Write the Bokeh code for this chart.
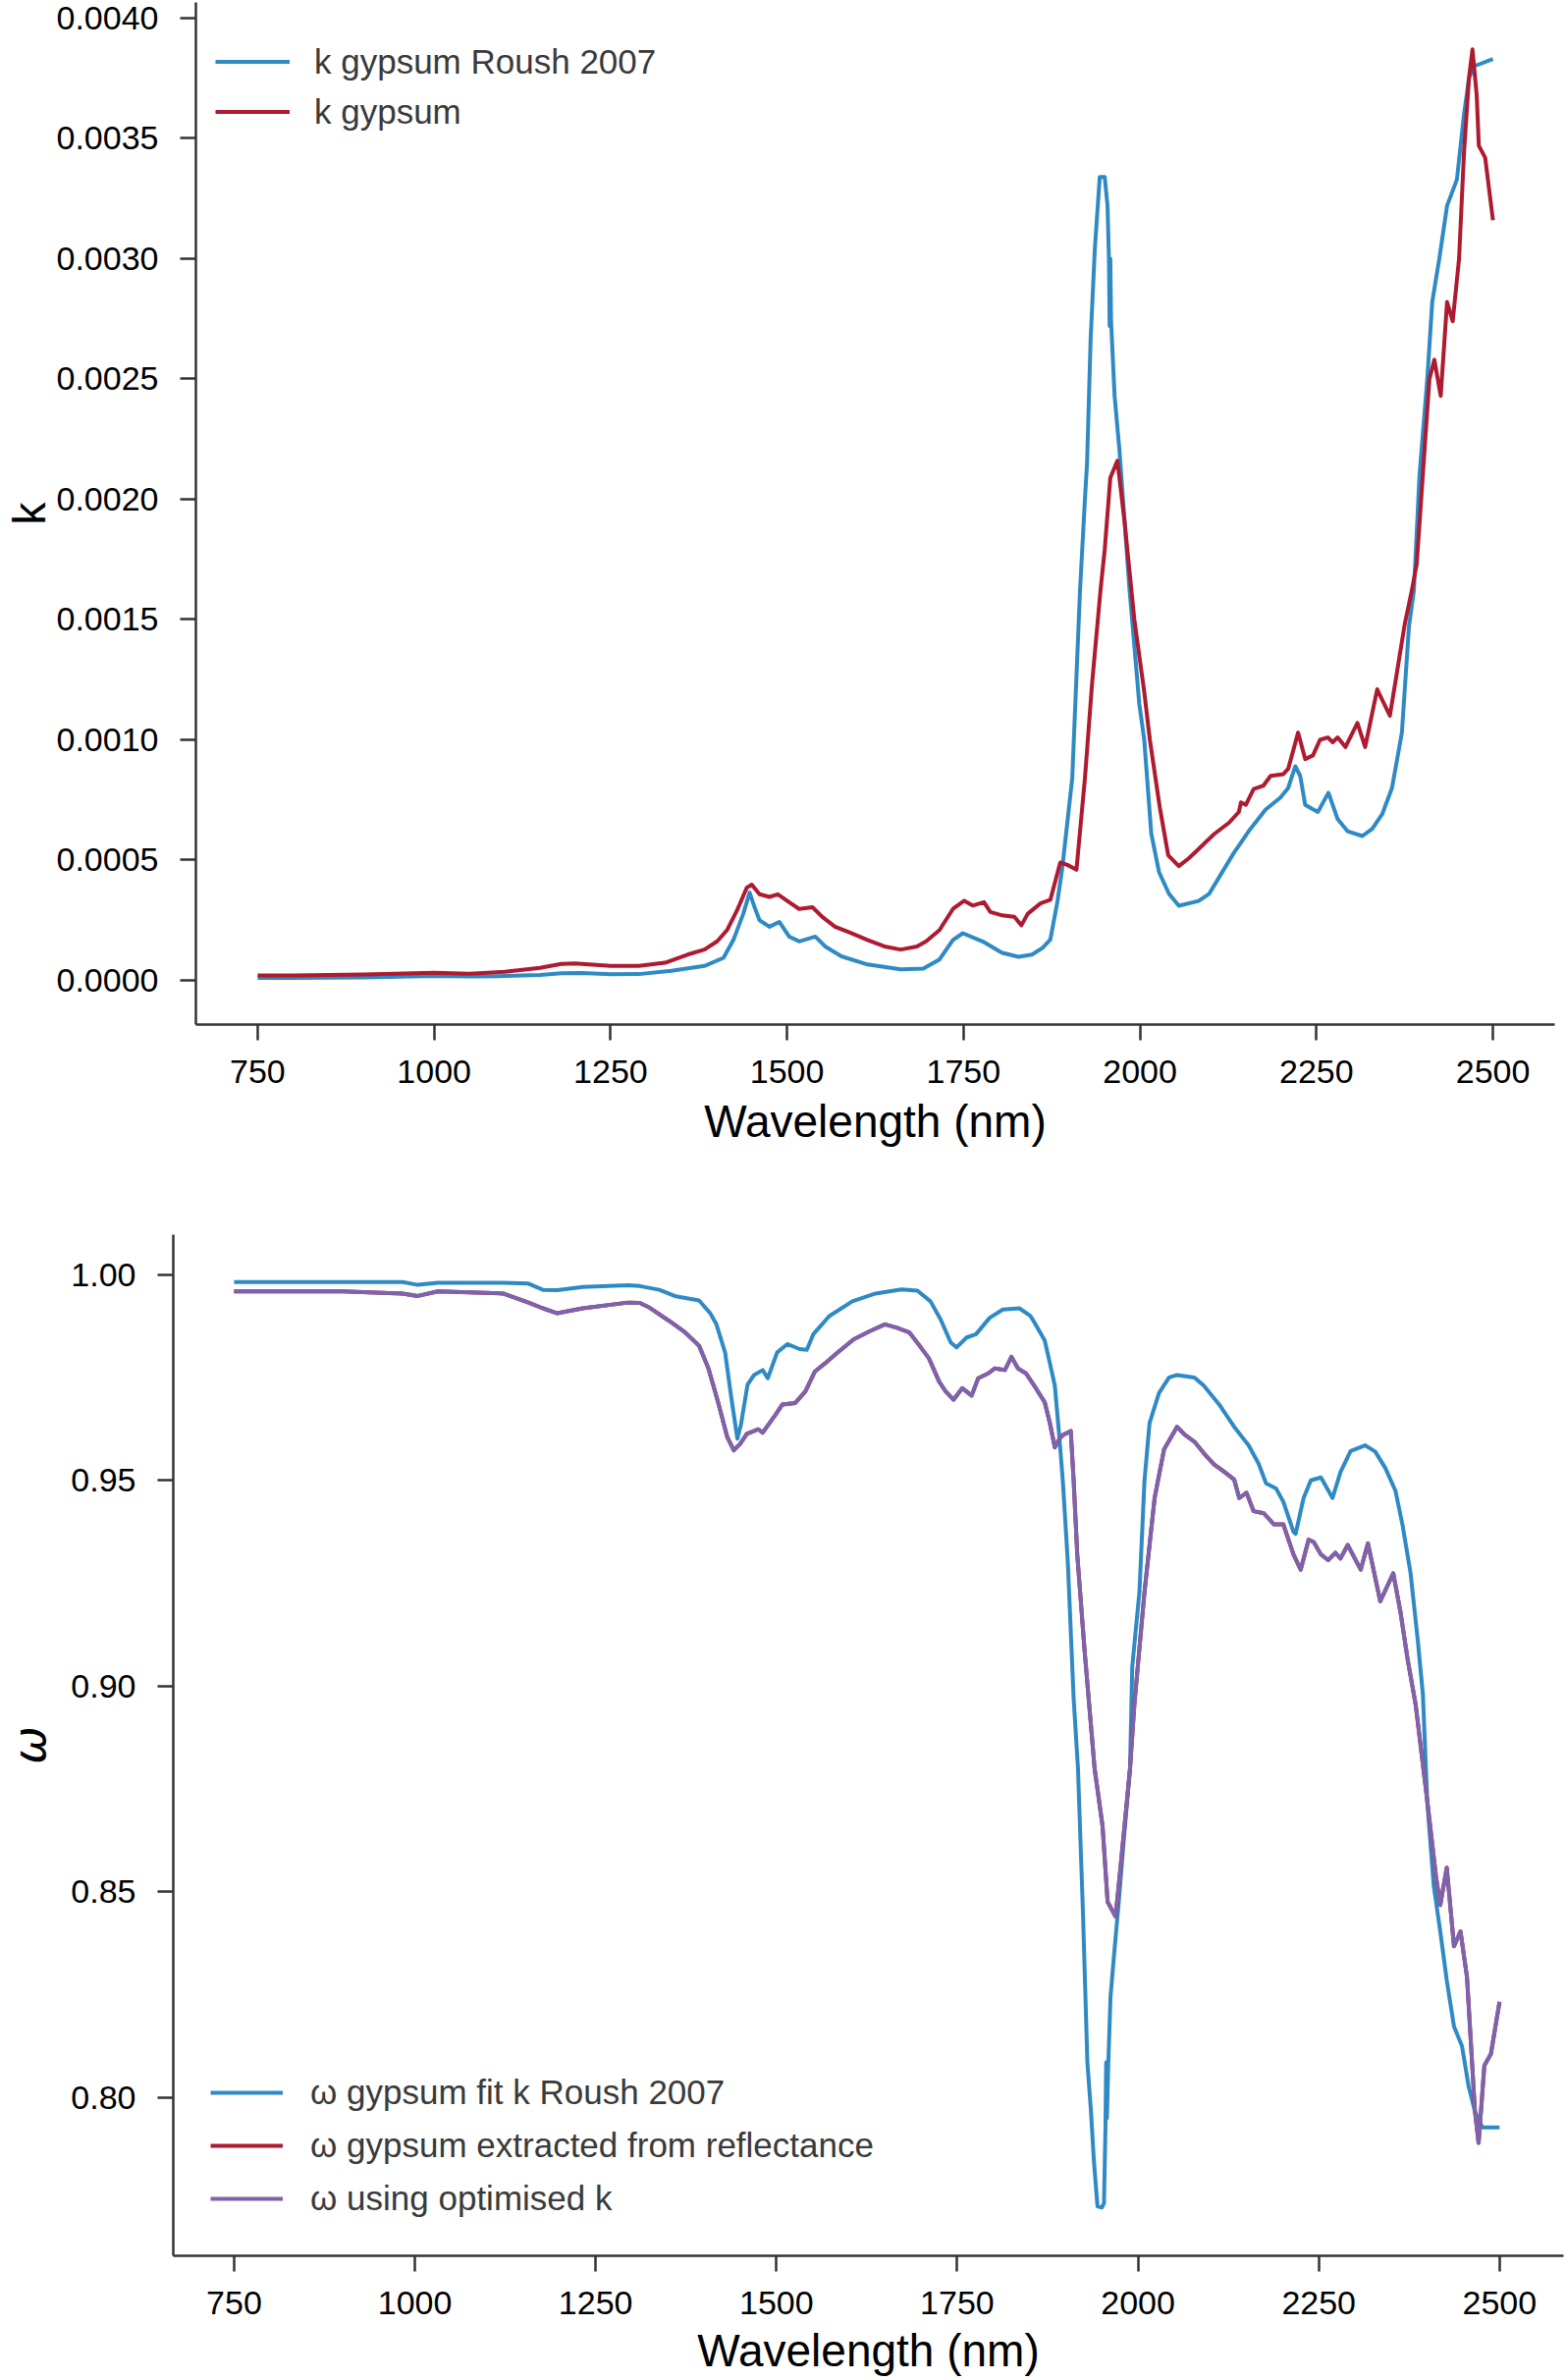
from bokeh.plotting import figure
from bokeh.models import Range1d, FixedTicker, PrintfTickFormatter, Legend, LegendItem
from bokeh.embed import file_html
from bokeh.resources import INLINE

# ---------------- data: top panel (k) ----------------
wl_k_roush = [750, 800, 900, 1000, 1050, 1100, 1150, 1180, 1210, 1250,
              1290, 1336, 1383, 1410, 1424, 1438, 1447, 1454, 1461, 1475,
              1489, 1503, 1517, 1540, 1554, 1577, 1614, 1661, 1693, 1716,
              1735, 1749, 1777, 1805, 1828, 1847, 1862, 1873, 1883, 1890,
              1904, 1915, 1922, 1925, 1930, 1936, 1943, 1950, 1954, 1956,
              1957, 1958, 1959, 1964, 1971, 1985, 1999, 2006, 2016, 2027,
              2041, 2055, 2083, 2098, 2133, 2154, 2178, 2199, 2210, 2220,
              2227, 2234, 2252, 2267, 2280, 2294, 2315, 2329, 2343, 2357,
              2371, 2381, 2388, 2396, 2407, 2414, 2424, 2435, 2449, 2459,
              2466, 2473, 2500]
k_roush = [0.000010, 0.000010, 0.000012, 0.000018, 0.000016, 0.000018, 0.000022, 0.000030, 0.000031, 0.000025,
           0.000026, 0.000040, 0.000060, 0.000094, 0.000168, 0.000277, 0.000365, 0.000304, 0.000250, 0.000223,
           0.000243, 0.000182, 0.000162, 0.000182, 0.000141, 0.000100, 0.000066, 0.000046, 0.000049, 0.000087,
           0.000168, 0.000196, 0.000162, 0.000114, 0.000098, 0.000107, 0.000135, 0.000170, 0.000327, 0.000470,
           0.000840, 0.001620, 0.002000, 0.002150, 0.002660, 0.003040, 0.003340, 0.003340, 0.003220, 0.003000,
           0.002720, 0.003000, 0.002740, 0.002430, 0.002200, 0.001630, 0.001150, 0.001000, 0.000610, 0.000450,
           0.000360, 0.000310, 0.000330, 0.000360, 0.000530, 0.000620, 0.000710, 0.000760, 0.000800, 0.000890,
           0.000850, 0.000730, 0.000700, 0.000780, 0.000670, 0.000620, 0.000600, 0.000630, 0.000690, 0.000800,
           0.001030, 0.001470, 0.001620, 0.002100, 0.002500, 0.002820, 0.003000, 0.003220, 0.003330, 0.003600,
           0.003750, 0.003800, 0.003830]

wl_k_gypsum = [750, 800, 900, 1000, 1050, 1100, 1150, 1180, 1200, 1230,
               1250, 1290, 1327, 1359, 1383, 1401, 1415, 1429, 1443, 1450,
               1461, 1475, 1487, 1503, 1517, 1536, 1550, 1568, 1591, 1614,
               1638, 1661, 1684, 1697, 1716, 1735, 1751, 1763, 1779, 1788,
               1805, 1822, 1832, 1841, 1859, 1873, 1887, 1897, 1910, 1922,
               1932, 1944, 1950, 1958, 1968, 1978, 1992, 2006, 2014, 2028,
               2040, 2055, 2069, 2083, 2105, 2126, 2140, 2143, 2150, 2161,
               2175, 2185, 2203, 2210, 2224, 2234, 2245, 2255, 2266, 2273,
               2280, 2291, 2308, 2319, 2336, 2354, 2364, 2375, 2385, 2392,
               2403, 2410, 2417, 2426, 2435, 2443, 2452, 2459, 2466, 2471,
               2477, 2480, 2489, 2500]
k_gypsum = [0.000020, 0.000020, 0.000024, 0.000032, 0.000028, 0.000036, 0.000052, 0.000068, 0.000070, 0.000064,
            0.000060, 0.000060, 0.000073, 0.000107, 0.000128, 0.000162, 0.000209, 0.000290, 0.000386, 0.000398,
            0.000358, 0.000347, 0.000358, 0.000325, 0.000297, 0.000304, 0.000264, 0.000223, 0.000196, 0.000168,
            0.000141, 0.000128, 0.000141, 0.000162, 0.000209, 0.000297, 0.000331, 0.000311, 0.000325, 0.000284,
            0.000270, 0.000264, 0.000229, 0.000277, 0.000320, 0.000335, 0.000490, 0.000480, 0.000460, 0.000840,
            0.001230, 0.001620, 0.001790, 0.002090, 0.002160, 0.001910, 0.001500, 0.001200, 0.001000, 0.000720,
            0.000520, 0.000475, 0.000507, 0.000546, 0.000608, 0.000655, 0.000700, 0.000740, 0.000730, 0.000795,
            0.000810, 0.000850, 0.000857, 0.000880, 0.001030, 0.000920, 0.000935, 0.001000, 0.001010, 0.000990,
            0.001010, 0.000970, 0.001070, 0.000970, 0.001210, 0.001100, 0.001280, 0.001480, 0.001620, 0.001730,
            0.002200, 0.002500, 0.002580, 0.002430, 0.002820, 0.002740, 0.003000, 0.003440, 0.003750, 0.003870,
            0.003680, 0.003470, 0.003420, 0.003160]

# ---------------- data: bottom panel (omega) ----------------
wl_w_roush = [750, 900, 983, 1004, 1032, 1122, 1157, 1177, 1197, 1232,
              1295, 1311, 1338, 1361, 1393, 1408, 1417, 1429, 1437, 1446,
              1451, 1460, 1469, 1481, 1488, 1501, 1515, 1532, 1542, 1551,
              1573, 1605, 1637, 1673, 1695, 1713, 1727, 1741, 1749, 1763,
              1776, 1795, 1813, 1836, 1851, 1858, 1871, 1878, 1885, 1891,
              1896, 1903, 1911, 1917, 1924, 1930, 1935, 1939, 1944, 1950,
              1953, 1955, 1956, 1957, 1959, 1962, 1967, 1973, 1980, 1989,
              1992, 2002, 2009, 2016, 2029, 2043, 2054, 2078, 2091, 2112,
              2133, 2153, 2167, 2177, 2191, 2201, 2215, 2218, 2229, 2239,
              2253, 2269, 2280, 2294, 2314, 2328, 2342, 2356, 2366, 2377,
              2387, 2394, 2400, 2409, 2418, 2427, 2437, 2448, 2457, 2466,
              2476, 2500]
w_roush = [0.9982, 0.9982, 0.9982, 0.9975, 0.9980, 0.9980, 0.9978, 0.9963, 0.9962, 0.9970,
           0.9974, 0.9972, 0.9963, 0.9947, 0.9937, 0.9907, 0.9879, 0.9811, 0.9708, 0.9601,
           0.9636, 0.9732, 0.9756, 0.9768, 0.9748, 0.9811, 0.9831, 0.9819, 0.9817, 0.9855,
           0.9899, 0.9935, 0.9954, 0.9964, 0.9961, 0.9935, 0.9891, 0.9835, 0.9823, 0.9847,
           0.9855, 0.9895, 0.9915, 0.9918, 0.9900, 0.9880, 0.9840, 0.9786, 0.9730, 0.9610,
           0.9500, 0.9300, 0.8970, 0.8800, 0.8444, 0.8086, 0.7967, 0.7847, 0.7736, 0.7733,
           0.7744, 0.7927, 0.8086, 0.7950, 0.8086, 0.8245, 0.8349, 0.8468, 0.8619, 0.8800,
           0.9046, 0.9229, 0.9500, 0.9639, 0.9712, 0.9750, 0.9756, 0.9750, 0.9730, 0.9685,
           0.9630, 0.9585, 0.9540, 0.9493, 0.9480, 0.9448, 0.9375, 0.9370, 0.9457, 0.9500,
           0.9507, 0.9457, 0.9520, 0.9571, 0.9585, 0.9570, 0.9530, 0.9475, 0.9390, 0.9274,
           0.9110, 0.8980, 0.8720, 0.8515, 0.8404, 0.8285, 0.8173, 0.8126, 0.8030, 0.7966,
           0.7928, 0.7928]

wl_w_opt = [750, 900, 983, 1004, 1032, 1122, 1157, 1177, 1197, 1232,
            1295, 1311, 1325, 1352, 1374, 1393, 1406, 1419, 1432, 1441,
            1450, 1459, 1475, 1481, 1499, 1508, 1526, 1540, 1553, 1567,
            1585, 1607, 1630, 1650, 1666, 1684, 1698, 1711, 1725, 1734,
            1745, 1757, 1770, 1779, 1793, 1802, 1816, 1825, 1834, 1845,
            1858, 1871, 1878, 1885, 1891, 1896, 1907, 1911, 1916, 1926,
            1940, 1951, 1958, 1969, 1976, 1989, 1995, 2009, 2023, 2036,
            2054, 2064, 2078, 2091, 2105, 2119, 2133, 2140, 2150, 2160,
            2174, 2188, 2201, 2215, 2225, 2236, 2243, 2253, 2263, 2273,
            2280, 2290, 2308, 2318, 2335, 2353, 2363, 2373, 2384, 2400,
            2412, 2418, 2427, 2437, 2446, 2455, 2466, 2471, 2479, 2488,
            2500]
w_opt = [0.9959, 0.9959, 0.9954, 0.9948, 0.9959, 0.9954, 0.9932, 0.9918, 0.9906, 0.9918,
         0.9932, 0.9931, 0.9919, 0.9887, 0.9859, 0.9827, 0.9772, 0.9692, 0.9605, 0.9573,
         0.9589, 0.9613, 0.9624, 0.9616, 0.9660, 0.9684, 0.9688, 0.9716, 0.9764, 0.9784,
         0.9811, 0.9843, 0.9863, 0.9879, 0.9871, 0.9859, 0.9827, 0.9796, 0.9740, 0.9716,
         0.9696, 0.9724, 0.9706, 0.9748, 0.9760, 0.9772, 0.9768, 0.9800, 0.9772, 0.9760,
         0.9726, 0.9690, 0.9640, 0.9580, 0.9600, 0.9610, 0.9620, 0.9500, 0.9320, 0.9090,
         0.8800, 0.8660, 0.8476, 0.8440, 0.8563, 0.8800, 0.8955, 0.9229, 0.9457, 0.9575,
         0.9630, 0.9612, 0.9594, 0.9566, 0.9539, 0.9521, 0.9502, 0.9457, 0.9470, 0.9425,
         0.9420, 0.9393, 0.9393, 0.9320, 0.9283, 0.9356, 0.9350, 0.9320, 0.9306, 0.9324,
         0.9310, 0.9343, 0.9283, 0.9347, 0.9206, 0.9274, 0.9180, 0.9064, 0.8955, 0.8722,
         0.8539, 0.8468, 0.8559, 0.8368, 0.8404, 0.8293, 0.7967, 0.7890, 0.8078, 0.8106,
         0.8233]

# the "extracted from reflectance" curve lies exactly beneath the purple one in the original
wl_w_extracted = list(wl_w_opt)
w_extracted = list(w_opt)

x_ticks = [750, 1000, 1250, 1500, 1750, 2000, 2250, 2500]
k_ticks = [0.0, 0.0005, 0.0010, 0.0015, 0.0020, 0.0025, 0.0030, 0.0035, 0.0040]
w_ticks = [0.80, 0.85, 0.90, 0.95, 1.00]

BLUE = "#2f8ac4"
RED = "#ae1a30"
PURPLE = "#7d63ab"
FONT = "Liberation Sans"
AXIS_COL = "#333333"
LW = 4


def style_axes(p, xstand, ystand, xlab_stand, ylab_stand):
    p.outline_line_color = None
    p.xgrid.visible = False
    p.ygrid.visible = False
    p.background_fill_color = "white"
    p.border_fill_color = "white"
    for ax in (p.xaxis[0], p.yaxis[0]):
        ax.axis_line_color = AXIS_COL
        ax.axis_line_width = 2.5
        ax.major_tick_line_color = AXIS_COL
        ax.major_tick_line_width = 2.5
        ax.major_tick_out = 16
        ax.major_tick_in = 0
        ax.minor_tick_out = 0
        ax.minor_tick_in = 0
        ax.minor_tick_line_color = None
        ax.major_label_text_font = FONT
        ax.major_label_text_font_size = "34px"
        ax.major_label_text_color = "black"
        ax.axis_label_text_font = FONT
        ax.axis_label_text_font_size = "46px"
        ax.axis_label_text_font_style = "normal"
        ax.axis_label_text_color = "black"
    p.xaxis[0].major_label_standoff = xstand
    p.yaxis[0].major_label_standoff = ystand
    p.xaxis[0].axis_label_standoff = xlab_stand
    p.yaxis[0].axis_label_standoff = ylab_stand
    p.xaxis[0].ticker = FixedTicker(ticks=x_ticks)


def make_legend(items, x, y, glyph_w, row_h, standoff):
    return Legend(items=items, location=(x, y), orientation="vertical",
                  glyph_width=glyph_w, glyph_height=row_h, label_height=row_h,
                  label_standoff=standoff, spacing=0, padding=0, margin=0,
                  border_line_color=None, background_fill_alpha=0,
                  label_text_font=FONT, label_text_font_size="35px",
                  label_text_color="#3a3a3a")


# ---------------- top figure ----------------
p1 = figure(width=1595, height=1200,
            x_range=Range1d(662.5, 2587.5), y_range=Range1d(-0.0001837, 0.0040653),
            output_backend="svg", toolbar_location=None,
            min_border_left=199, min_border_right=12, min_border_top=2, min_border_bottom=157)
style_axes(p1, 20, 22, 10, -1)
p1.xaxis[0].axis_label = "Wavelength (nm)"
p1.yaxis[0].axis_label = "k"
p1.yaxis[0].ticker = FixedTicker(ticks=k_ticks)
p1.yaxis[0].formatter = PrintfTickFormatter(format="%.4f")

r_k_roush = p1.line(wl_k_roush, k_roush, line_color=BLUE, line_width=LW, line_join="round")
r_k_gyp = p1.line(wl_k_gypsum, k_gypsum, line_color=RED, line_width=LW, line_join="round")
leg1 = make_legend([LegendItem(label="k gypsum Roush 2007", renderers=[r_k_roush]),
                    LegendItem(label="k gypsum", renderers=[r_k_gyp])],
                   20, 904, 76, 51, 25)
p1.add_layout(leg1, "center")

# ---------------- bottom figure ----------------
p2 = figure(width=1595, height=1222,
            x_range=Range1d(665.9, 2588.5), y_range=Range1d(0.76159, 1.00969),
            output_backend="svg", toolbar_location=None,
            min_border_left=174, min_border_right=3, min_border_top=57, min_border_bottom=125)
style_axes(p2, 20, 22, 8, 12)
p2.xaxis[0].axis_label = "Wavelength (nm)"
p2.yaxis[0].axis_label = "ω"
p2.yaxis[0].axis_label_text_font = "DejaVu Sans"
p2.yaxis[0].axis_label_text_font_style = "italic"
p2.yaxis[0].ticker = FixedTicker(ticks=w_ticks)
p2.yaxis[0].formatter = PrintfTickFormatter(format="%.2f")

r_w_roush = p2.line(wl_w_roush, w_roush, line_color=BLUE, line_width=LW, line_join="round")
r_w_ext = p2.line(wl_w_extracted, w_extracted, line_color=RED, line_width=LW, line_join="round")
r_w_opt = p2.line(wl_w_opt, w_opt, line_color=PURPLE, line_width=LW, line_join="round")
leg2 = make_legend([LegendItem(label="ω gypsum fit k Roush 2007", renderers=[r_w_roush]),
                    LegendItem(label="ω gypsum extracted from reflectance", renderers=[r_w_ext]),
                    LegendItem(label="ω using optimised k", renderers=[r_w_opt])],
                   38, 31, 74, 54, 28)
p2.add_layout(leg2, "center")

# two independent roots, stacked, so that each frame keeps its own left edge
open("out.html", "w").write(file_html([p1, p2], INLINE))
